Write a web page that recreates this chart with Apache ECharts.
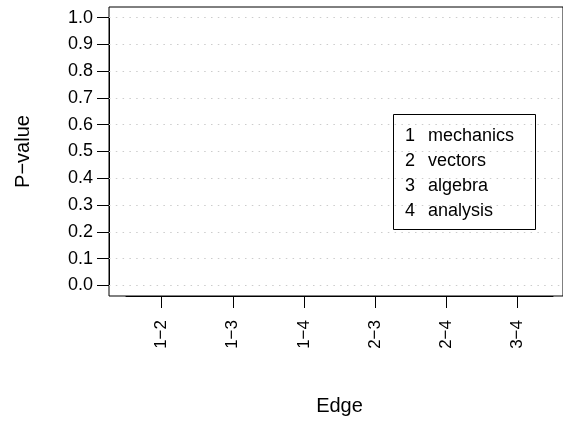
<!DOCTYPE html>
<html>
<head>
<meta charset="utf-8">
<script src="https://cdn.jsdelivr.net/npm/echarts@6/dist/echarts.min.js"></script>
<style>
  html, body { margin: 0; padding: 0; background: #fff; }
  #chart { width: 563px; height: 423px; }
</style>
</head>
<body>
<div id="chart"></div>
<script>
// edges between topics, one p-value each
const edges = ['1\u22122', '1\u22123', '1\u22124', '2\u22123', '2\u22124', '3\u22124'];
const pValues = [0.010, 0.105, 0.989, 0.039, 0.736, 0.001];
const yTicks = [0, 0.1, 0.2, 0.3, 0.4, 0.5, 0.6, 0.7, 0.8, 0.9, 1.0];
const keyNumbers = ['1', '2', '3', '4'];
const keyNames = ['mechanics', 'vectors', 'algebra', 'analysis'];

const font = '"Liberation Sans", Arial, Helvetica, sans-serif';
const halfWidth = 0.4;

const chart = echarts.init(document.getElementById('chart'), null, { renderer: 'canvas' });

chart.setOption({
  animation: false,
  backgroundColor: '#fff',
  textStyle: { fontFamily: font, color: '#000' },
  title: {
    left: 393,
    top: 111,
    padding: [13, 10, 9, 12],
    borderColor: '#000',
    borderWidth: 1,
    text: keyNumbers.map((n, i) => `{n|${n}}{t|${keyNames[i]}}`).join('\n'),
    textStyle: {
      fontFamily: font,
      fontWeight: 'normal',
      rich: {
        n: { width: 23, fontSize: 18, lineHeight: 25, color: '#000', fontFamily: font },
        t: { width: 98, fontSize: 18, lineHeight: 25, color: '#000', fontFamily: font }
      }
    }
  },
  grid: [
    // outer frame, R-style extended range (-0.04..1.04 and 0.26..6.74)
    { left: 109, top: 7, right: -7, bottom: 127, show: true, borderColor: '#000', borderWidth: 1 },
    // data area: 0..1 on y, one band per edge on x
    { left: 126, top: 17.7, right: 10, bottom: 137.7 }
  ],
  xAxis: [
    { gridIndex: 0, type: 'value', min: 0, max: 1, show: false },
    {
      gridIndex: 1,
      type: 'category',
      data: edges,
      boundaryGap: true,
      offset: 10.7,
      name: 'Edge',
      nameLocation: 'middle',
      nameGap: 100,
      nameTextStyle: { fontSize: 20, color: '#000', fontFamily: font },
      axisLine: { show: true, onZero: false, lineStyle: { color: '#000', width: 1 } },
      splitLine: { show: false },
      axisTick: {
        show: true,
        alignWithLabel: true,
        interval: 0,
        length: 12,
        lineStyle: { color: '#000', width: 1 }
      },
      axisLabel: {
        interval: 0,
        rotate: 90,
        margin: 24,
        fontSize: 17,
        color: '#000',
        fontFamily: font
      }
    }
  ],
  yAxis: [
    { gridIndex: 0, type: 'value', min: -0.04, max: 1.04, show: false },
    {
      gridIndex: 1,
      type: 'value',
      min: 0,
      max: 1,
      interval: 0.1,
      offset: 17,
      name: 'P\u2212value',
      nameLocation: 'middle',
      nameGap: 76,
      nameTextStyle: { fontSize: 20, color: '#000', fontFamily: font },
      axisLine: { show: true, onZero: false, lineStyle: { color: '#000', width: 1 } },
      splitLine: { show: false },
      axisTick: {
        show: true,
        length: 12,
        lineStyle: { color: '#000', width: 1 }
      },
      axisLabel: {
        margin: 16,
        fontSize: 18,
        color: '#000',
        fontFamily: font,
        formatter: (value) => value.toFixed(1)
      }
    }
  ],
  series: [
    {
      // dotted reference lines across the whole frame
      type: 'line',
      xAxisIndex: 0,
      yAxisIndex: 0,
      data: [],
      silent: true,
      markLine: {
        silent: true,
        symbol: 'none',
        label: { show: false },
        lineStyle: { color: '#cccccc', type: [1.5, 5.3], width: 1 },
        data: yTicks.map((v) => ({ yAxis: v }))
      }
    },
    {
      type: 'custom',
      xAxisIndex: 1,
      yAxisIndex: 1,
      // category index + p-value
      data: edges.map((_, i) => [i, pValues[i]]),
      renderItem: (params, api) => {
        const x = Number(api.value(0));
        const y = Number(api.value(1));
        const a = api.coord([x - halfWidth, y]);
        const b = api.coord([x + halfWidth, y]);
        return {
          type: 'line',
          shape: { x1: a[0], y1: a[1], x2: b[0], y2: b[1] },
          style: { stroke: '#000', lineWidth: 2.2 },
          z2: 10
        };
      },
      z: 3
    }
  ]
});
</script>
</body>
</html>
